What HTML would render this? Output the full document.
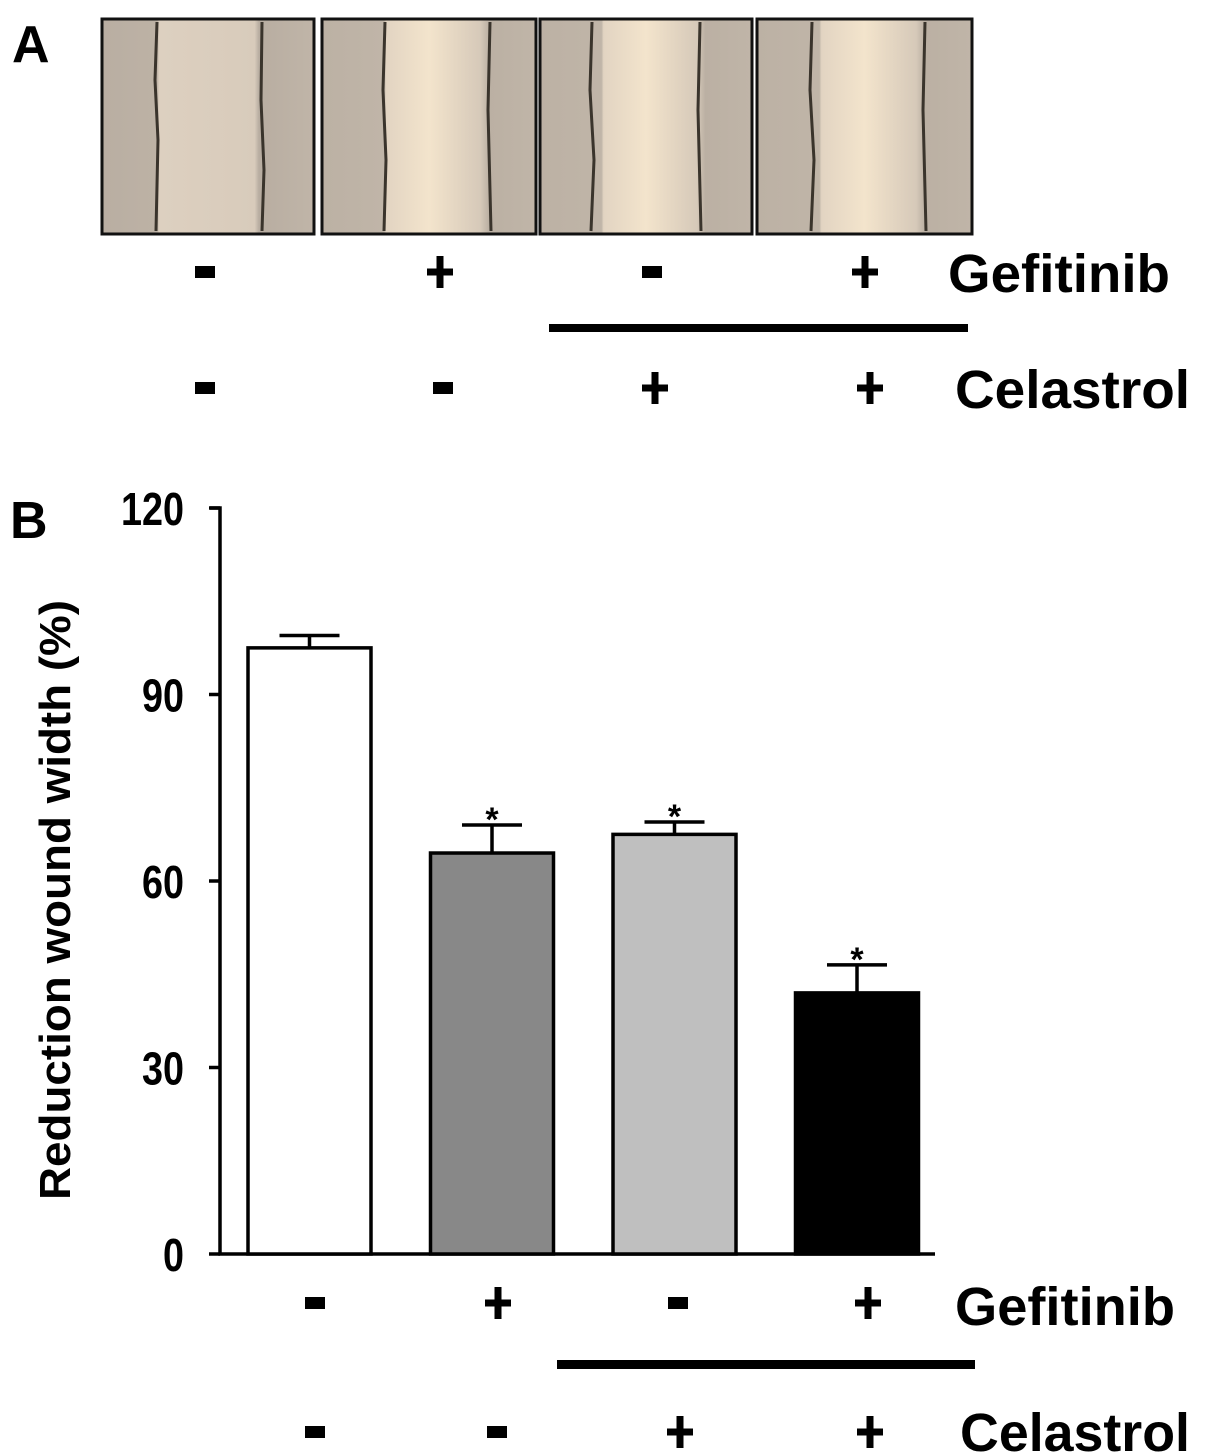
<!DOCTYPE html>
<html><head><meta charset="utf-8"><style>
html,body{margin:0;padding:0;background:#fff;}
svg{display:block;font-family:"Liberation Sans",Arial,sans-serif;}
</style></head><body>
<svg width="1205" height="1454" viewBox="0 0 1205 1454">
<defs>
<linearGradient id="g1" x1="0" x2="1"><stop offset="0" stop-color="#b9aea2"/><stop offset="0.26" stop-color="#bdb2a5"/><stop offset="0.27" stop-color="#ddd0c0"/><stop offset="0.72" stop-color="#d8cbbb"/><stop offset="0.74" stop-color="#b8ada1"/><stop offset="1" stop-color="#c0b5a8"/></linearGradient>
<linearGradient id="g2" x1="0" x2="1"><stop offset="0" stop-color="#bcb1a4"/><stop offset="0.29" stop-color="#c0b5a8"/><stop offset="0.30" stop-color="#e2d4c2"/><stop offset="0.5" stop-color="#f3e4cc"/><stop offset="0.74" stop-color="#d6c9b9"/><stop offset="0.78" stop-color="#bbb0a3"/><stop offset="1" stop-color="#c0b5a8"/></linearGradient>
<g id="minus"><rect x="-10" y="-6" width="20" height="12" fill="#000"/></g>
<g id="plus"><rect x="-13" y="-3.5" width="26" height="7" fill="#000"/><rect x="-3.5" y="-16" width="7" height="32" fill="#000"/></g>
</defs>
<g>
<text x="12" y="62" font-size="52" font-weight="bold">A</text>
<g><rect x="102" y="19" width="212" height="215" fill="url(#g1)" stroke="#111" stroke-width="3"/><path d="M157 22 L155 80 L158 140 L156 231 M262 22 L261 100 L264 170 L262 231" stroke="#3a342c" stroke-width="3" fill="none"/></g>
<g><rect x="322" y="19" width="214" height="215" fill="url(#g2)" stroke="#111" stroke-width="3"/><path d="M385 22 L383 90 L386 160 L384 231 M490 22 L488 110 L491 231" stroke="#3a342c" stroke-width="3" fill="none"/></g>
<g><rect x="540" y="19" width="212" height="215" fill="url(#g2)" stroke="#111" stroke-width="3"/><path d="M592 22 L590 90 L594 160 L591 231 M700 22 L698 110 L701 231" stroke="#3a342c" stroke-width="3" fill="none"/></g>
<g><rect x="757" y="19" width="215" height="215" fill="url(#g2)" stroke="#111" stroke-width="3"/><path d="M812 22 L810 90 L814 160 L811 231 M925 22 L923 110 L926 231" stroke="#3a342c" stroke-width="3" fill="none"/></g>
<g>
<use href="#minus" x="205" y="272"/><use href="#plus" x="440" y="272"/><use href="#minus" x="652" y="272"/><use href="#plus" x="865" y="272"/>
<use href="#minus" x="205" y="388"/><use href="#minus" x="443" y="388"/><use href="#plus" x="655" y="388"/><use href="#plus" x="870" y="388"/>
</g>
<text x="948" y="292" font-size="54" font-weight="bold" textLength="222" lengthAdjust="spacingAndGlyphs">Gefitinib</text>
<rect x="549" y="324" width="419" height="8" fill="#000"/>
<text x="955" y="408" font-size="54" font-weight="bold" textLength="235" lengthAdjust="spacingAndGlyphs">Celastrol</text>
</g>
<g>
<text x="10" y="538" font-size="52" font-weight="bold">B</text>
<g id="chart"></g>
<text transform="translate(70,900) rotate(-90)" text-anchor="middle" font-size="44" font-weight="bold" textLength="600" lengthAdjust="spacingAndGlyphs">Reduction wound width (%)</text>
<g>
<use href="#minus" x="315" y="1303"/><use href="#plus" x="498" y="1303"/><use href="#minus" x="678" y="1303"/><use href="#plus" x="868" y="1303"/>
<use href="#minus" x="315" y="1432"/><use href="#minus" x="497" y="1432"/><use href="#plus" x="680" y="1432"/><use href="#plus" x="870" y="1432"/>
</g>
<text x="955" y="1325" font-size="54" font-weight="bold" textLength="220" lengthAdjust="spacingAndGlyphs">Gefitinib</text>
<rect x="557" y="1360" width="418" height="9" fill="#000"/>
<text x="960" y="1451" font-size="54" font-weight="bold" textLength="230" lengthAdjust="spacingAndGlyphs">Celastrol</text>
</g>
</svg>
<script>
const categories = ["Control", "Gefitinib", "Celastrol", "Gefitinib+Celastrol"];
const values = [97.5, 64.5, 67.5, 42];
const errors = [2, 4.5, 2, 4.5];
const significant = [false, true, true, true];
const yTicks = [0, 30, 60, 90, 120];
const fills = ["#ffffff", "#888888", "#bfbfbf", "#000000"];

const NS = "http://www.w3.org/2000/svg";
const g = document.getElementById("chart");
const y0 = 1254, yTop = 508, yMax = 120;
function yScale(v){ return y0 - v/yMax*(y0-yTop); }
function xScale(i){ return 248 + i*182.5; }
const bw = 123;
function mk(tag, attrs){ const e=document.createElementNS(NS,tag); for(const k in attrs) e.setAttribute(k,attrs[k]); g.appendChild(e); return e; }

const ax = mk("path",{d:`M210 ${yTop} L220 ${yTop} L220 ${y0} L935 ${y0}`,stroke:"#000","stroke-width":3.5,fill:"none"});


yTicks.forEach(t=>{
  const y=yScale(t);
  const tk=mk("line",{x1:209,x2:220,y1:y,y2:y,stroke:"#000","stroke-width":3.5});
  
  
  const s=String(t);
  const lb=mk("text",{x:184,y:y+17,"text-anchor":"end","font-size":46,"font-weight":"bold",textLength:s.length*21,lengthAdjust:"spacingAndGlyphs"});
  lb.textContent=s;
  
  
});
values.forEach((v,i)=>{
  const x=xScale(i), yt=yScale(v), ye=yScale(v+errors[i]);
  const cx=x+bw/2;
  const eb=mk("path",{d:`M${cx} ${yt} L${cx} ${ye} M${cx-30} ${ye} L${cx+30} ${ye}`,stroke:"#000","stroke-width":3.5,fill:"none"});
  
  
  const r=mk("rect",{x:x,y:yt,width:bw,height:y0-yt,fill:fills[i],stroke:"#000","stroke-width":3.5});
  
  
  if(significant[i]){
    const s=mk("text",{x:cx,y:ye+6,"text-anchor":"middle","font-size":34,"font-weight":"bold"});
    s.textContent="*";
    
    
  }
});
</script>
</body></html>
